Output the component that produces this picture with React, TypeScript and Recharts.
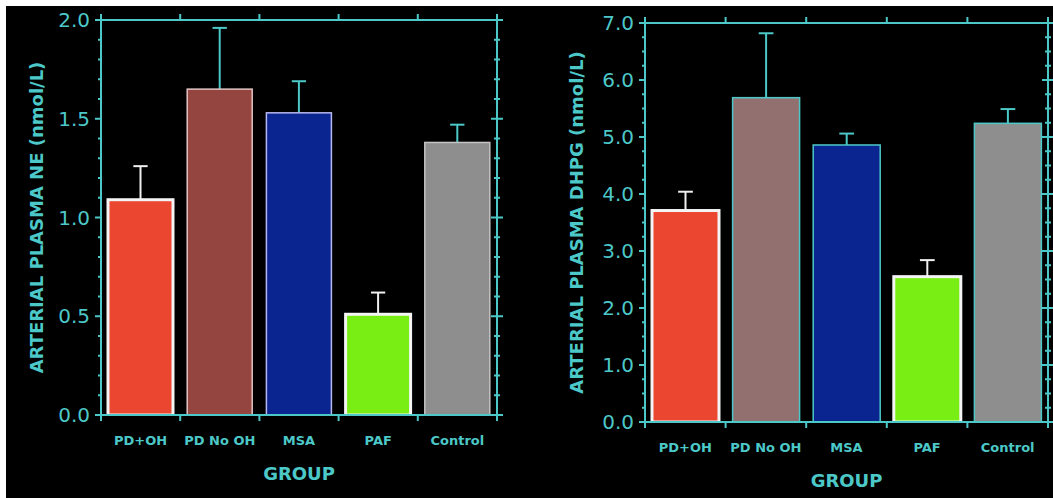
import { BarChart, Bar, XAxis, YAxis, Label } from "recharts";

const groups = ["PD+OH", "PD No OH", "MSA", "PAF", "Control"];

// arterial plasma NE (nmol/L), mean and SEM
const neMean = [1.09, 1.65, 1.53, 0.51, 1.38];
const neSem = [0.17, 0.31, 0.16, 0.11, 0.09];

// arterial plasma DHPG (nmol/L), mean and SEM
const dhpgMean = [3.71, 5.69, 4.86, 2.55, 5.24];
const dhpgSem = [0.33, 1.13, 0.2, 0.29, 0.25];

const neMajor = [0, 0.5, 1, 1.5, 2];
const dhpgMajor = [0, 1, 2, 3, 4, 5, 6, 7];

const TEAL = "#4cc8c8";
const FONT = "DejaVu Sans";

const neFill = ["#ea4630", "#944540", "#0b2590", "#79ee15", "#8e8e8e"];
const neOutline = ["#f4f4f4", "#e2c4c4", "#b8b8f0", "#f4f4f4", "#c4c4c4"];
const dhpgFill = ["#ea4630", "#927070", "#0b2590", "#79ee15", "#8e8e8e"];
const dhpgOutline = ["#f4f4f4", TEAL, TEAL, "#f4f4f4", TEAL];
const errColor = ["#f0f0f0", TEAL, TEAL, "#f0f0f0", TEAL];

const steps = (max: number, step: number) => {
  const out: number[] = [];
  for (let i = 0; i * step <= max + 1e-9; i++) out.push(Math.round(i * step * 100) / 100);
  return out;
};

const edgeTicks = [0, 1, 2, 3, 4, 5];
const bottomTicks = steps(5, 0.5);

interface PanelProps {
  left: number;
  width: number;
  margin: { top: number; right: number; bottom: number; left: number };
  yWidth: number;
  mean: number[];
  sem: number[];
  max: number;
  minor: number;
  major: number[];
  fills: string[];
  outlines: string[];
  yLabel: string;
}

const Panel = (p: PanelProps) => {
  // slot = centre of each group on a 0..5 numeric scale (used for the edge ticks)
  const data = groups.map((g, i) => ({ group: g, slot: i + 0.5, value: p.mean[i], sem: p.sem[i] }));
  const minorTicks = steps(p.max, p.minor);

  const leftTick = (t: any) => {
    const v = Math.round(t.payload.value * 100) / 100;
    const isMajor = p.major.includes(v);
    const len = isMajor ? 6 : 3;
    return (
      <g>
        <line x1={t.x} x2={t.x - len} y1={t.y} y2={t.y} stroke={TEAL} strokeWidth={2} />
        {isMajor && (
          <text x={t.x - 11} y={t.y} dy="0.36em" textAnchor="end" fill={TEAL} fontSize={20} fontFamily={FONT}>
            {v.toFixed(1)}
          </text>
        )}
      </g>
    );
  };

  const rightTick = (t: any) => {
    const v = Math.round(t.payload.value * 100) / 100;
    const len = p.major.includes(v) ? 6 : 3;
    return <line x1={t.x - len} x2={t.x + len} y1={t.y} y2={t.y} stroke={TEAL} strokeWidth={2} />;
  };

  const topTick = (t: any) => <line x1={t.x} x2={t.x} y1={t.y} y2={t.y - 6} stroke={TEAL} strokeWidth={2} />;

  const bottomTick = (t: any) => {
    const v = t.payload.value;
    if (Number.isInteger(v)) {
      return <line x1={t.x} x2={t.x} y1={t.y} y2={t.y + 6} stroke={TEAL} strokeWidth={2} />;
    }
    return (
      <text x={t.x} y={t.y + 30} textAnchor="middle" fill={TEAL} fontSize={13} fontWeight="bold" fontFamily={FONT}>
        {groups[Math.floor(v)]}
      </text>
    );
  };

  const barShape = (s: any) => {
    const i = s.index;
    const white = p.outlines[i] === "#f4f4f4";
    const errTop = s.y - (s.payload.sem / s.payload.value) * s.height;
    const cx = s.x + s.width / 2;
    const cap = s.width * 0.11;
    return (
      <g>
        <line x1={cx} x2={cx} y1={s.y} y2={errTop} stroke={errColor[i]} strokeWidth={2} />
        <line x1={cx - cap} x2={cx + cap} y1={errTop} y2={errTop} stroke={errColor[i]} strokeWidth={2} />
        <rect
          x={s.x}
          y={s.y}
          width={s.width}
          height={s.height}
          fill={p.fills[i]}
          stroke={p.outlines[i]}
          strokeWidth={white ? 3 : 1.5}
        />
      </g>
    );
  };

  return (
    <div style={{ position: "absolute", left: p.left, top: 0 }}>
      <BarChart width={p.width} height={498} data={data} margin={p.margin} barCategoryGap={7}>
        <XAxis xAxisId="cat" dataKey="group" type="category" hide />
        <XAxis
          xAxisId="top"
          dataKey="slot"
          orientation="top"
          type="number"
          domain={[0, 5]}
          allowDataOverflow
          ticks={edgeTicks}
          interval={0}
          height={1}
          tickSize={0}
          tickMargin={0}
          tickLine={false}
          axisLine={{ stroke: TEAL, strokeWidth: 2 }}
          tick={topTick}
        />
        <XAxis
          xAxisId="bottom"
          dataKey="slot"
          orientation="bottom"
          type="number"
          domain={[0, 5]}
          allowDataOverflow
          ticks={bottomTicks}
          interval={0}
          height={70}
          tickSize={0}
          tickMargin={0}
          tickLine={false}
          axisLine={{ stroke: TEAL, strokeWidth: 2 }}
          tick={bottomTick}
        >
          <Label
            value="GROUP"
            position="insideBottom"
            offset={5}
            fill={TEAL}
            fontSize={18}
            fontWeight="bold"
            fontFamily={FONT}
          />
        </XAxis>
        <YAxis
          yAxisId="l"
          domain={[0, p.max]}
          allowDataOverflow
          ticks={minorTicks}
          interval={0}
          width={p.yWidth}
          tickSize={0}
          tickMargin={0}
          tickLine={false}
          axisLine={{ stroke: TEAL, strokeWidth: 2 }}
          tick={leftTick}
        >
          <Label
            value={p.yLabel}
            angle={-90}
            position="insideLeft"
            offset={0}
            fill={TEAL}
            fontSize={18}
            fontWeight="bold"
            fontFamily={FONT}
            style={{ textAnchor: "middle" }}
          />
        </YAxis>
        <YAxis
          yAxisId="r"
          orientation="right"
          domain={[0, p.max]}
          allowDataOverflow
          ticks={minorTicks}
          interval={0}
          width={1}
          tickSize={0}
          tickMargin={0}
          tickLine={false}
          axisLine={{ stroke: TEAL, strokeWidth: 2 }}
          tick={rightTick}
        />
        <Bar dataKey="value" xAxisId="cat" yAxisId="l" shape={barShape} isAnimationActive={false} />
      </BarChart>
    </div>
  );
};

const App = () => (
  <div style={{ position: "absolute", left: 0, top: 0, width: 1053, height: 498, background: "#fff" }}>
    <div style={{ position: "absolute", left: 6, top: 6, width: 1047, height: 492, background: "#000" }} />
    <Panel
      left={0}
      width={530}
      margin={{ top: 19, right: 32, bottom: 13, left: 37 }}
      yWidth={64}
      mean={neMean}
      sem={neSem}
      max={2}
      minor={0.1}
      major={neMajor}
      fills={neFill}
      outlines={neOutline}
      yLabel="ARTERIAL PLASMA NE (nmol/L)"
    />
    <Panel
      left={530}
      width={523}
      margin={{ top: 22, right: 4, bottom: 6, left: 47 }}
      yWidth={68}
      mean={dhpgMean}
      sem={dhpgSem}
      max={7}
      minor={0.25}
      major={dhpgMajor}
      fills={dhpgFill}
      outlines={dhpgOutline}
      yLabel="ARTERIAL PLASMA DHPG (nmol/L)"
    />
  </div>
);

export default App;
